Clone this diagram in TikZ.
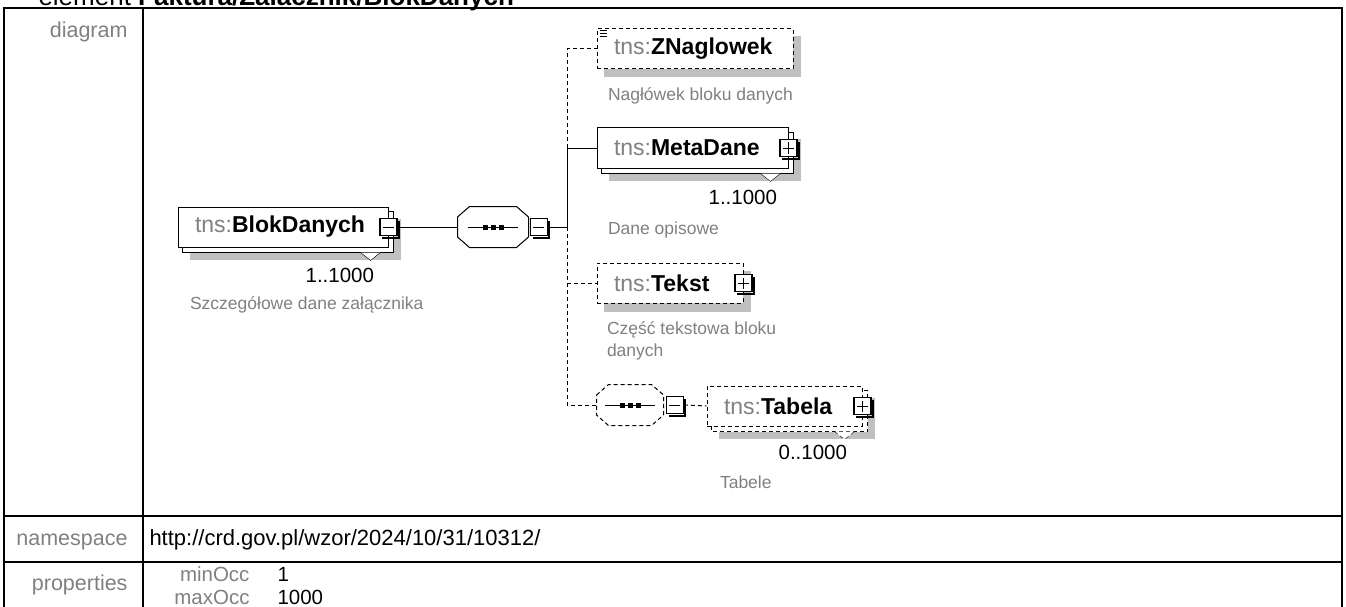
\documentclass[tikz,border=0pt]{standalone}
\usepackage{fontspec}
\setmainfont{Liberation Sans}
\usetikzlibrary{calc, positioning, backgrounds}

\definecolor{lblgray}{RGB}{128,128,128}
\definecolor{shadegray}{RGB}{192,192,192}
\newcommand{\nsp}{\textcolor{lblgray}{tns:}}

\begin{document}
\begin{tikzpicture}[x=1pt, y=-1pt, line width=1pt,
  elem/.style={draw, fill=white, minimum height=40pt, inner xsep=17pt, inner ysep=0pt,
    align=left, font=\fontsize{23}{27}\selectfont},
  opt/.style={dash pattern=on 4pt off 3pt},
  seqbox/.style={minimum width=70pt, minimum height=40pt, inner sep=0pt},
  btn/.style={draw, fill=white, line width=1.3pt, minimum size=17pt, inner sep=0pt},
  minusbtn/.style={btn, path picture={
    \draw[line width=1pt] ($(path picture bounding box.west)+(3,0)$) -- ($(path picture bounding box.east)+(-3,0)$);}},
  plusbtn/.style={btn, path picture={
    \draw[line width=1pt] ($(path picture bounding box.west)+(3,0)$) -- ($(path picture bounding box.east)+(-3,0)$);
    \draw[line width=1pt] ($(path picture bounding box.north)+(0,3)$) -- ($(path picture bounding box.south)+(0,-3)$);}},
  occ/.style={font=\fontsize{20.5}{24}\selectfont, anchor=base east, inner sep=0pt},
  desc/.style={text=lblgray, font=\fontsize{17.5}{22}\selectfont, anchor=base west, inner sep=0pt, align=left},
  lbl/.style={text=lblgray, font=\fontsize{21.5}{25}\selectfont, anchor=base east, inner sep=0pt},
  grid/.style={line width=2pt}]
  \useasboundingbox (0,0) rectangle (1346,607);

  % table frame
  \node[anchor=base west, inner sep=0pt, font=\fontsize{26}{30}\selectfont] (title) at (38,5.5)
    {element \textbf{Faktura/Zalacznik/BlokDanych}};
  \draw[grid] (4,615) -- (4,8) -- (1342,8) -- (1342,615);
  \draw[grid] (143,8) -- (143,615);
  \draw[grid] (4,515.5) -- (1342,515.5);
  \draw[grid] (4,561.5) -- (1342,561.5);
  \node[lbl] (diaglbl) at (128,38) {diagram};
  \node[lbl] (nslbl) at (128,545.5) {namespace};
  \node[lbl] (proplbl) at (128,590.5) {properties};
  \node[anchor=base west, inner sep=0pt, font=\fontsize{22}{26}\selectfont] (nsval) at (149,545.5)
    {http://crd.gov.pl/wzor/2024/10/31/10312/};
  \node[lbl, font=\fontsize{20.5}{24}\selectfont] (minlbl) at (250,581) {minOcc};
  \node[lbl, font=\fontsize{20.5}{24}\selectfont] (maxlbl) at (250,604) {maxOcc};
  \node[anchor=base west, inner sep=0pt, font=\fontsize{20.5}{24}\selectfont] (minval) at (277,581) {1};
  \node[anchor=base west, inner sep=0pt, font=\fontsize{20.5}{24}\selectfont] (maxval) at (277,604) {1000};

  % elements
  \node[elem, text width=176pt] (blok) at (283,227) {\nsp\textbf{BlokDanych}};
  \node[seqbox] (seq1) at (493,227) {};
  \node[elem, opt, text width=162pt] (znag) at (695,49) {\nsp\textbf{ZNaglowek}};
  \node[elem, text width=157pt] (meta) at (692.5,148) {\nsp\textbf{MetaDane}};
  \node[elem, opt, text width=112pt] (tekst) at (670,283) {\nsp\textbf{Tekst}};
  \node[seqbox, minimum width=66pt] (seq2) at (630,405) {};
  \node[elem, opt, text width=121pt] (tabela) at (784.5,406) {\nsp\textbf{Tabela}};

  % shadows and repeated copies
  \begin{scope}[on background layer]
    \foreach \n in {znag, tekst}
      \fill[shadegray] ($(\n.north west)+(7,8)$) rectangle ($(\n.south east)+(7,8)$);
    \foreach \n/\s in {blok/solid, meta/solid, tabela/opt}{
      \fill[shadegray] ($(\n.north west)+(12,12)$) rectangle ($(\n.south east)+(12,12)$);
      \draw[fill=white, \s] ($(\n.north west)+(5,5)$) rectangle ($(\n.south east)+(5,5)$);
      \draw[fill=white, \s] ($(\n.south east)+(-28,5)$) -- ++(10,8) -- ++(10,-8);
    }
    \foreach \q in {seq1, seq2}
      \fill[shadegray, shift={(7,8)}] ($(\q.west)+(0,-10)$) -- ($(\q.north west)+(12,0)$)
        -- ($(\q.north east)+(-12,0)$) -- ($(\q.east)+(0,-10)$) -- ($(\q.east)+(0,10)$)
        -- ($(\q.south east)+(-12,0)$) -- ($(\q.south west)+(12,0)$) -- ($(\q.west)+(0,10)$) -- cycle;
  \end{scope}

  % sequence compositors
  \foreach \q/\s in {seq1/solid, seq2/opt}{
    \draw[fill=white, \s] ($(\q.west)+(0,-10)$) -- ($(\q.north west)+(12,0)$)
      -- ($(\q.north east)+(-12,0)$) -- ($(\q.east)+(0,-10)$) -- ($(\q.east)+(0,10)$)
      -- ($(\q.south east)+(-12,0)$) -- ($(\q.south west)+(12,0)$) -- ($(\q.west)+(0,10)$) -- cycle;
    \draw ($(\q.center)+(-25,0)$) -- ($(\q.center)+(25,0)$);
    \foreach \dx in {-8,0,8}
      \fill ($(\q.center)+(\dx,0)+(-2.5,-2.5)$) rectangle +(5,5);
  }

  % buttons
  \node[minusbtn] (blokbtn) at (blok.east) {};
  \node[minusbtn, right=1pt of seq1] (seq1btn) {};
  \node[plusbtn] (metabtn) at (meta.east) {};
  \node[plusbtn] (tekstbtn) at (tekst.east) {};
  \node[minusbtn, right=2pt of seq2] (seq2btn) {};
  \node[plusbtn] (tabelabtn) at (tabela.east) {};
  \foreach \bt in {blokbtn, seq1btn, metabtn, tekstbtn, seq2btn, tabelabtn}
    \draw[line width=2pt] ($(\bt.north east)+(1.5,3)$) -- ($(\bt.south east)+(1.5,1.5)$)
      -- ($(\bt.south west)+(3,1.5)$);
  \foreach \dy in {2,5,8}
    \draw[line width=0.8pt] ($(znag.north west)+(3,\dy)$) -- +(7,0);

  % connectors
  \coordinate (bus) at (567,227);
  \draw (blokbtn.east) -- (seq1.west);
  \draw (seq1btn.east) -- (bus);
  \draw (bus) -- (bus |- meta.west) -- (meta.west);
  \draw[opt] (bus |- meta.west) -- (bus |- znag.west) -- (znag.west);
  \draw[opt] (bus) -- (bus |- seq2.west) -- (seq2.west);
  \draw[opt] (bus |- tekst.west) -- (tekst.west);
  \draw[opt] (seq2btn.east) -- (tabela.west);

  % occurrences and annotations
  \node[occ] (blokocc) at ($(blok.south east)+(-14,35)$) {1..1000};
  \node[desc] (blokdesc) at ($(blok.south west)+(12,62)$) {Szczegółowe dane załącznika};
  \node[desc] (znagdesc) at ($(znag.south west)+(11,31)$) {Nagłówek bloku danych};
  \node[occ] (metaocc) at ($(meta.south east)+(-11,36)$) {1..1000};
  \node[desc] (metadesc) at ($(meta.south west)+(11,66)$) {Dane opisowe};
  \node[desc] (tekstdesc) at ($(tekst.south west)+(10,53)$) {Część tekstowa bloku\\danych};
  \node[occ] (tabelaocc) at ($(tabela.south east)+(-15,33)$) {0..1000};
  \node[desc] (tabeladesc) at ($(tabela.south west)+(13,62)$) {Tabele};
\end{tikzpicture}
\end{document}
